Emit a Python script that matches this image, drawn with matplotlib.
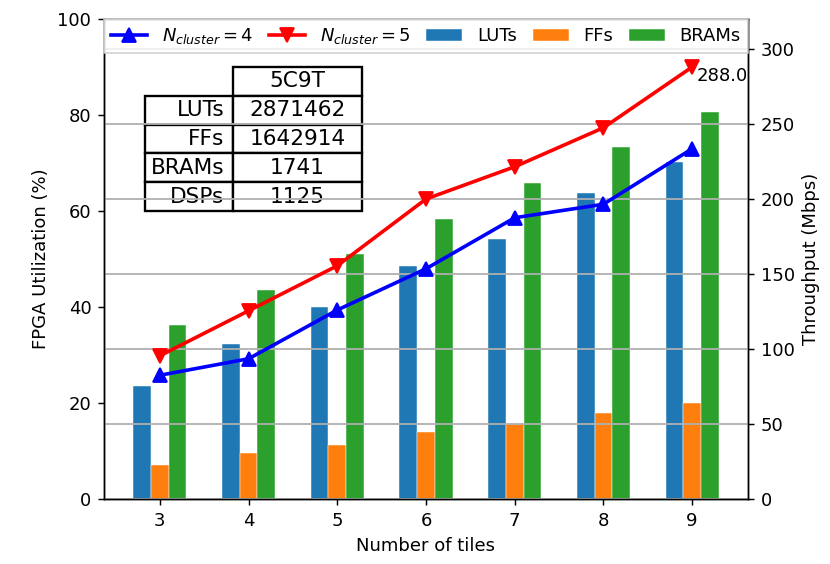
import matplotlib
matplotlib.use("Agg")
import matplotlib.pyplot as plt
import numpy as np

tiles = [3, 4, 5, 6, 7, 8, 9]
luts = [23.5, 32.3, 40.0, 48.5, 54.2, 63.8, 70.2]
ffs = [7.1, 9.6, 11.3, 14.0, 15.6, 18.0, 20.1]
brams = [36.2, 43.5, 51.0, 58.4, 65.9, 73.3, 80.6]

thr_c4 = [82.5, 93.5, 126.0, 153.5, 187.5, 196.5, 233.5]
thr_c5 = [95.5, 125.5, 155.5, 200.0, 221.5, 247.5, 288.0]

table_rows = ["LUTs", "FFs", "BRAMs", "DSPs"]
table_cols = ["5C9T"]
table_vals = [["2871462"], ["1642914"], ["1741"], ["1125"]]

DPI = 130
fig = plt.figure(figsize=(830 / DPI, 564 / DPI), dpi=DPI)
fig.subplots_adjust(left=104 / 830, right=748 / 830, top=1 - 19 / 564, bottom=1 - 499 / 564)
ax1 = fig.add_subplot(111)
ax2 = ax1.twinx()

x = np.array(tiles, dtype=float)
w = 0.2
b1 = ax1.bar(x - w, luts, w, color="#1f77b4", edgecolor="white", linewidth=0.25, label="LUTs")
b2 = ax1.bar(x, ffs, w, color="#ff7f0e", edgecolor="white", linewidth=0.25, label="FFs")
b3 = ax1.bar(x + w, brams, w, color="#2ca02c", edgecolor="white", linewidth=0.25, label="BRAMs")
ax1.set_ylim(0, 100)
ax1.set_xticks(tiles)
ax1.set_xlabel("Number of tiles")
ax1.set_ylabel("FPGA Utilization (%)")

# summary table of device resources (bbox covers the data column only)
tab = ax1.table(cellText=table_vals, rowLabels=table_rows, colLabels=table_cols,
                cellLoc="center", rowLoc="right", colLoc="center",
                colWidths=[129 / 644],
                bbox=[129 / 644, 288 / 480, 129 / 644, 144 / 480])
tab.auto_set_font_size(False)
tab.set_fontsize(12)
for (r, c), cell in tab.get_celld().items():
    cell.set_linewidth(1.3)
    if c == -1:
        cell.set_width(88 / 644)

l1, = ax2.plot(tiles, thr_c4, color="blue", marker="^", markersize=8, linewidth=2,
               label=r"$N_{cluster}=4$")
l2, = ax2.plot(tiles, thr_c5, color="red", marker="v", markersize=8, linewidth=2,
               label=r"$N_{cluster}=5$")
ax2.text(tiles[-1] + 0.05, thr_c5[-1], f"{thr_c5[-1]:.1f}", va="top", ha="left", fontsize=10)
ax2.set_ylim(0, 320)
ax2.set_yticks([0, 50, 100, 150, 200, 250, 300])
ax2.set_ylabel("Throughput (Mbps)")
ax2.grid(axis="y", color="#b0b0b0", linewidth=1)

ax2.legend(handles=[l1, l2, b1, b2, b3], loc="upper left", bbox_to_anchor=(0, 0, 1, 1),
           mode="expand", ncol=5, borderaxespad=0, fancybox=False)

fig.savefig("out.png", dpi=DPI)
